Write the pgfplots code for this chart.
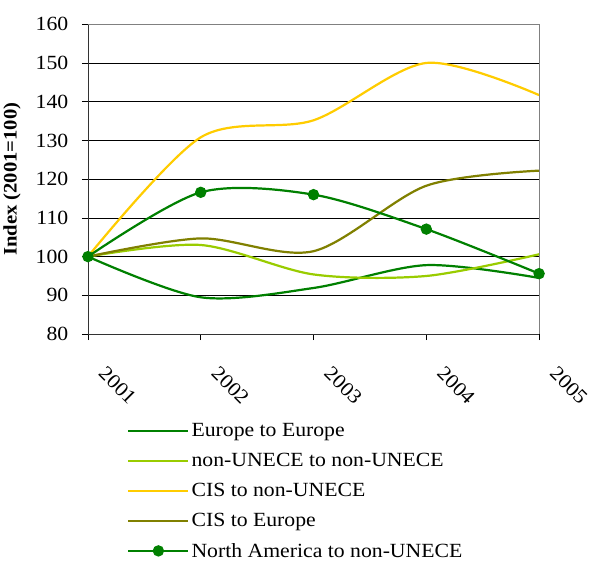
\documentclass[border=0pt]{standalone}
\usepackage{fontspec}
\setmainfont{Liberation Serif}[FakeStretch=1.08]
\usepackage{pgfplots}
\pgfplotsset{compat=1.18}

\definecolor{eugreen}{RGB}{0,128,0}
\definecolor{lightgreen}{RGB}{153,204,0}
\definecolor{cisgold}{RGB}{255,204,0}
\definecolor{olive}{RGB}{128,128,0}

\begin{document}
\begin{tikzpicture}[font=\fontsize{20}{24}\selectfont]
\begin{axis}[
    scale only axis,
    width=447bp,
    height=307bp,
    xmin=2001, xmax=2005,
    ymin=80, ymax=160,
    xtick={2001,2002,2003,2004,2005},
    ytick={80,90,...,160},
    /pgf/number format/assume math mode=true,
    xticklabel={\pgfmathprintnumber[1000 sep={}]{\tick}},
    xticklabel style={xshift=19bp, yshift=-24.8bp, rotate=-45, anchor=north west, inner sep=0pt},
    yticklabel style={xshift=-10bp},
    axis lines*=left,
    axis line style={black!80, line width=0.8pt},
    tick align=outside,
    major tick length=6bp,
    tick style={black, line width=0.6pt},
    ymajorgrids=true,
    grid style={black, line width=0.5pt},
    ylabel={\bfseries Index (2001=100)},
    ylabel style={yshift=8bp, font=\fontsize{19}{22}\selectfont},
    every axis plot/.append style={line width=2.2pt, smooth},
    legend style={draw=none, fill=none, at={(0.08,-0.275)}, anchor=north west,
        row sep=11bp, font=\fontsize{20}{24}\selectfont},
    legend cell align=left,
    legend image code/.code={\draw[mark repeat=2,mark phase=2,#1] plot coordinates {(0cm,0cm) (1.05cm,0cm) (2.1cm,0cm)};},
    clip=false,
]
\addplot[eugreen, no markers] coordinates {(2001,100) (2002,89.5) (2003,91.9) (2004,97.8) (2005,94.5)};
\addlegendentry{Europe to Europe}
\addplot[lightgreen, no markers] coordinates {(2001,100) (2002,103) (2003,95.4) (2004,95) (2005,100.6)};
\addlegendentry{non-UNECE to non-UNECE}
\addplot[cisgold, no markers] coordinates {(2001,100) (2002,130.8) (2003,135.2) (2004,150) (2005,141.7)};
\addlegendentry{CIS to non-UNECE}
\addplot[olive, no markers] coordinates {(2001,100) (2002,104.7) (2003,101.4) (2004,118.3) (2005,122.2)};
\addlegendentry{CIS to Europe}
\addplot[eugreen, mark=*, mark size=4.5bp, mark options={solid, fill=eugreen}] coordinates {(2001,100) (2002,116.6) (2003,116) (2004,107.1) (2005,95.6)};
\addlegendentry{North America to non-UNECE}
\draw[gray, line width=1.2pt] (rel axis cs:0,1) -- (rel axis cs:1,1) -- (rel axis cs:1,0);
\end{axis}
\path (current axis.north) ++(0,24bp);
\end{tikzpicture}
\end{document}
